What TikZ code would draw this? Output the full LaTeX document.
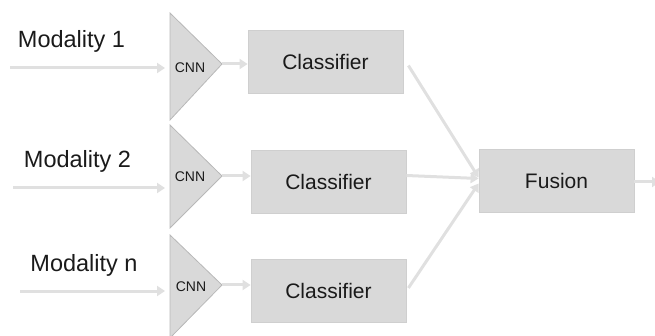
\documentclass[tikz,border=0pt]{standalone}
\usepackage{fontspec}
\setmainfont{Liberation Sans}
\usetikzlibrary{arrows.meta,calc}
\definecolor{boxfill}{HTML}{D9D9D9}
\definecolor{boxline}{HTML}{CFCFCF}
\definecolor{triline}{HTML}{B8B8B8}
\definecolor{arrowgray}{HTML}{E0E0E0}
\definecolor{textdark}{HTML}{1A1A1A}
\tikzset{
  block/.style={draw=boxline, fill=boxfill, line width=0.8pt, minimum width=155pt,
    minimum height=63pt, inner sep=0pt, font=\fontsize{21}{24}\selectfont, text=textdark},
  cnnlabel/.style={font=\fontsize{14}{16}\selectfont, text=textdark, inner sep=0pt},
  modlabel/.style={font=\fontsize{23.5}{27}\selectfont, text=textdark, inner sep=0pt},
  tri/.style={draw=triline, fill=boxfill, line width=0.8pt, line join=miter},
  flow/.style={draw=arrowgray, line width=3pt, -{Triangle[length=8pt,width=10pt]}},
}
\begin{document}
\begin{tikzpicture}[x=1pt,y=-1pt]
\useasboundingbox (0,0) rectangle (655,336);
\clip (0,0) rectangle (655,336);

% CNN triangles
\foreach \n/\top/\bot/\ay in {1/13/120/64, 2/125/228/176, 3/235/338/285}{
  \coordinate (t\n-top) at (170,\top);
  \coordinate (t\n-bot) at (170,\bot);
  \coordinate (t\n-apex) at (222,\ay);
  \draw[tri] (t\n-top) -- (t\n-apex) -- (t\n-bot) -- cycle;
}
\node[cnnlabel] (cnn1) at (190,68) {CNN};
\node[cnnlabel] (cnn2) at (190,177) {CNN};
\node[cnnlabel] (cnn3) at (191,287) {CNN};

% Modality labels
\node[modlabel] (m1) at (71.5,41) {Modality 1};
\node[modlabel] (m2) at (77.5,161) {Modality 2};
\node[modlabel] (m3) at (84,265) {Modality n};

% Classifiers and fusion
\node[block] (c1) at (325.5,61.5) {Classifier};
\node[block] (c2) at (328.5,181.5) {Classifier};
\node[block] (c3) at (328.5,291) {Classifier};
\node[block] (fu) at (556.5,180.5) {Fusion};

% Input arrows
\coordinate (in1) at (10,68);
\coordinate (in2) at (13,188);
\coordinate (in3) at (20,291);
\draw[flow] (in1) -- (165,68);
\draw[flow] (in2) -- (165,188);
\draw[flow] (in3) -- (165,291);

% CNN to classifier
\draw[flow] (t1-apex) -- (c1.west |- t1-apex);
\draw[flow] (t2-apex) -- (c2.west |- t2-apex);
\draw[flow] (t3-apex) -- (c3.west |- t3-apex);

% Classifiers to fusion
\draw[flow] ([xshift=5pt,yshift=-4pt]c1.east) -- ([yshift=3pt]fu.west);
\draw[flow] ([yshift=6pt]c2.east) -- ([yshift=2pt]fu.west);
\draw[flow] ([xshift=2pt,yshift=3pt]c3.east) -- ([yshift=-3pt]fu.west);

% Output
\coordinate (out) at (660,182);
\draw[flow] (fu.east |- out) -- (out);
\end{tikzpicture}
\end{document}
